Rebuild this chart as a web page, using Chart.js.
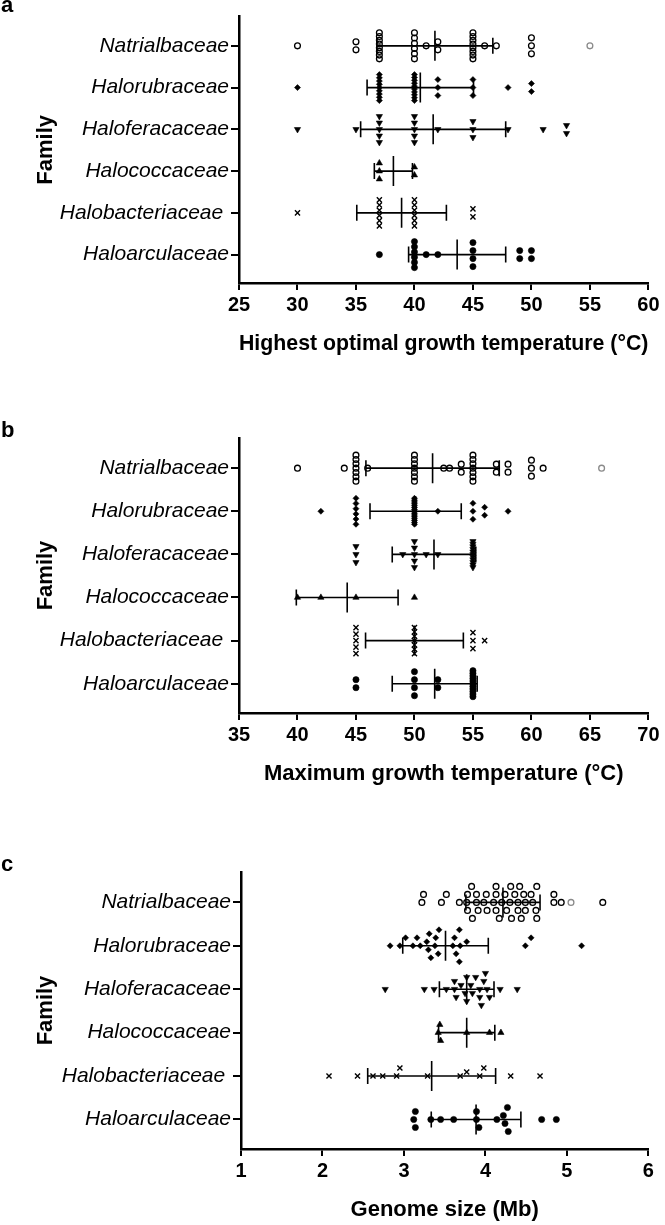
<!DOCTYPE html>
<html><head><meta charset="utf-8">
<script src="https://cdn.jsdelivr.net/npm/chart.js@4.4.1/dist/chart.umd.min.js"></script>
<style>
html,body{margin:0;padding:0;background:#fff;}
body{width:665px;height:1225px;overflow:hidden;position:relative;}
canvas{position:absolute;left:0;}
.letter{position:absolute;left:1px;font-family:"Liberation Sans",Arial,sans-serif;font-weight:bold;font-size:22px;line-height:22px;color:#000;z-index:2;}
</style></head><body>
<canvas id="panelA" width="665" height="365" style="top:0px"></canvas>
<canvas id="panelB" width="665" height="385" style="top:410px"></canvas>
<canvas id="panelC" width="665" height="380" style="top:845px"></canvas>
<div class="letter" style="top:-6px">a</div>
<div class="letter" style="top:419px">b</div>
<div class="letter" style="top:853px">c</div>
<script>
// ---------- categories ----------
const families = ['Natrialbaceae','Halorubraceae','Haloferacaceae','Halococcaceae','Halobacteriaceae ','Haloarculaceae'];

// ---------- panel a: highest optimal growth temperature (°C) ----------
const optNatrialbaceae = [30,35,35,37,37,37,37,37,37,37,37,40,40,40,40,40,40,41,42,42,45,45,45,45,45,45,45,45,46,47,50,50,50,55];
const optHalorubraceae = [30,37,37,37,37,37,37,37,37,37,40,40,40,40,40,40,40,40,40,40,42,42,42,45,45,45,48,50,50];
const optHaloferacaceae = [30,35,37,37,37,37,37,40,40,40,40,40,42,45,45,45,48,51,53,53];
const optHalococcaceae = [37,37,37,40,40];
const optHalobacteriaceae = [30,37,37,37,37,37,37,40,40,40,40,40,40,45,45];
const optHaloarculaceae = [37,40,40,40,40,40,40,41,42,45,45,45,45,49,49,50,50];
const optMean = [41.75,40.5,41.6,38.2,38.9,43.65];
const optSD = [4.95,4.55,6.2,1.63,3.83,4.15];
const optHighlight = 55;
const optTicks = [25,60,5];

// ---------- panel b: maximum growth temperature (°C) ----------
const maxNatrialbaceae = [40,44,45,45,45,45,45,45,45,46,50,50,50,50,50,50,50,52.5,53,54,54,55,55,55,55,55,55,55,57,57,58,58,60,60,60,61,66];
const maxHalorubraceae = [42,45,45,45,45,45,45,50,50,50,50,50,50,50,50,50,50,50,50,50,50,50,52,55,55,55,56,56,58];
const maxHaloferacaceae = [45,45,45,49,50,50,50,50,50,51,52,55,55,55,55,55,55,55,55,55,55,55];
const maxHalococcaceae = [40,42,45,50];
const maxHalobacteriaceae = [45,45,45,45,45,50,50,50,50,50,50,50,55,55,55,56];
const maxHaloarculaceae = [45,45,50,50,50,50,52,52,55,55,55,55,55,55,55,55,55,55,55];
const maxMean = [51.55,50.1,51.67,44.25,50.0,51.73];
const maxSD = [5.7,3.9,3.57,4.35,4.18,3.63];
const maxHighlight = 66;
const maxTicks = [35,70,5];

// ---------- panel c: genome size (Mb) ----------
const genNatrialbaceae = [3.22,3.24,3.46,3.52,3.68,3.77,3.78,3.78,3.83,3.84,3.89,3.89,3.91,3.98,4.01,4.02,4.10,4.13,4.13,4.13,4.17,4.20,4.24,4.26,4.30,4.31,4.32,4.36,4.40,4.40,4.42,4.44,4.47,4.49,4.49,4.56,4.58,4.62,4.63,4.63,4.84,4.84,4.93,5.05,5.44];
const genHalorubraceae = [2.83,2.95,3.02,3.11,3.16,3.20,3.28,3.30,3.31,3.33,3.38,3.39,3.42,3.43,3.60,3.62,3.64,3.68,3.68,3.69,3.77,4.49,4.56,5.18];
const genHaloferacaceae = [2.77,3.25,3.37,3.52,3.62,3.62,3.64,3.70,3.75,3.77,3.77,3.82,3.84,3.88,3.93,3.93,3.95,3.98,4.00,4.02,4.05,4.18,4.39];
const genHalococcaceae = [3.42,3.44,3.45,3.77,4.05,4.19];
const genHalobacteriaceae = [2.08,2.43,2.62,2.74,2.91,2.95,3.29,3.69,3.77,3.93,3.98,4.31,4.67];
const genHaloarculaceae = [3.12,3.14,3.14,3.33,3.45,3.61,3.89,3.89,3.92,4.14,4.22,4.24,4.27,4.28,4.69,4.87];
const genMean = [4.215,3.51,3.77,3.77,3.34,3.885];
const genSD = [0.455,0.525,0.335,0.345,0.785,0.55];
const genHighlight = 5.05;
const genTicks = [1,6,1];

// ---------- styles / layout ----------
const FONT = '"Liberation Sans", Arial, Helvetica, sans-serif';
const markStyles = [
  {style:'circle',   r:2.9, rot:0,   fill:'rgba(255,255,255,0)', bw:1.3},
  {style:'rectRot',  r:3.0, rot:0,   fill:'#000', bw:0.6},
  {style:'triangle', r:3.6, rot:180, fill:'#000', bw:0.6},
  {style:'triangle', r:3.6, rot:0,   fill:'#000', bw:0.6},
  {style:'crossRot', r:3.6, rot:0,   fill:'#000', bw:1.4},
  {style:'circle',   r:3.1, rot:0,   fill:'#000', bw:0.6}
];

const panels = [
  {id:'panelA', top:0,   plotTop:6,   plotBottom:283,  left:239, right:651, spread:'stack',
   series:[optNatrialbaceae,optHalorubraceae,optHaloferacaceae,optHalococcaceae,optHalobacteriaceae,optHaloarculaceae],
   mean:optMean, sd:optSD, ticks:optTicks, highlight:optHighlight, xTitle:'Highest optimal growth temperature (°C)'},
  {id:'panelB', top:410, plotTop:438, plotBottom:713,  left:239, right:650, spread:'stack',
   series:[maxNatrialbaceae,maxHalorubraceae,maxHaloferacaceae,maxHalococcaceae,maxHalobacteriaceae,maxHaloarculaceae],
   mean:maxMean, sd:maxSD, ticks:maxTicks, highlight:maxHighlight, xTitle:'Maximum growth temperature (°C)'},
  {id:'panelC', top:845, plotTop:872, plotBottom:1149, left:241, right:656, spread:'swarm',
   series:[genNatrialbaceae,genHalorubraceae,genHaloferacaceae,genHalococcaceae,genHalobacteriaceae,genHaloarculaceae],
   mean:genMean, sd:genSD, ticks:genTicks, highlight:genHighlight, xTitle:'Genome size (Mb)'}
];

// identical values stacked vertically (compressed when many)
function stackOffsets(vals, maxGap, maxSpan) {
  const counts = {}, seen = {};
  vals.forEach(v => counts[v] = (counts[v] || 0) + 1);
  return vals.map(v => {
    const n = counts[v];
    const k = seen[v] = (seen[v] === undefined ? 0 : seen[v] + 1);
    const g = n > 1 ? Math.min(maxGap, maxSpan / (n - 1)) : 0;
    return (k - (n - 1) / 2) * g;
  });
}
// continuous values spread so marks do not overlap
function swarmOffsets(vals, xs, gap, step) {
  const placed = [];
  const off = new Array(vals.length).fill(0);
  const order = vals.map((v, i) => i).sort((a, b) => vals[a] - vals[b]);
  order.forEach(i => {
    const px = xs.getPixelForValue(vals[i]);
    for (let k = 0; k < 60; k++) {
      const dy = k === 0 ? 0 : (k % 2 ? -1 : 1) * Math.ceil(k / 2) * step;
      if (placed.every(p => Math.hypot(p.x - px, p.y - dy) >= gap)) {
        off[i] = dy; placed.push({x: px, y: dy}); break;
      }
    }
  });
  return off;
}

function makePanel(p) {
  const canvas = document.getElementById(p.id);
  const H = canvas.height;
  const axisH = H - (p.plotBottom - p.top);
  const titleSize = 22, titleLH = titleSize * 1.2;
  const titlePadBottom = axisH - 61 - titleLH / 2;
  const datasets = [];
  p.mean.forEach((m, i) => datasets.push({
    type:'scatter', showLine:true, data:[{x:m - p.sd[i], y:i}, {x:m + p.sd[i], y:i}],
    borderColor:'#000', borderWidth:1.6, pointStyle:'line', pointRadius:8, pointRotation:90,
    pointBorderColor:'#000', pointBorderWidth:1.6, order:1
  }));
  datasets.push({
    type:'scatter', data:p.mean.map((m, i) => ({x:m, y:i})), pointStyle:'line', pointRadius:15,
    pointRotation:90, pointBorderColor:'#000', pointBorderWidth:1.6, order:1
  });
  const firstPts = datasets.length;
  p.series.forEach((vals, i) => {
    const st = markStyles[i];
    datasets.push({
      type:'scatter', data:[], pointStyle:st.style, pointRotation:st.rot, pointRadius:st.r,
      pointBackgroundColor:st.fill,
      pointBorderColor: vals.map(v => (i === 0 && v === p.highlight) ? '#8a8a8a' : '#000'),
      pointBorderWidth:st.bw, order:2
    });
  });
  const chart = new Chart(canvas, {
    type:'scatter',
    data:{datasets},
    options:{
      responsive:false, animation:false, events:[],
      layout:{padding:{left:0, right:665 - p.right, top:p.plotTop - p.top, bottom:0}},
      plugins:{legend:{display:false}, tooltip:{enabled:false}},
      scales:{
        x:{type:'linear', position:'bottom', min:p.ticks[0], max:p.ticks[1],
          ticks:{stepSize:p.ticks[2], color:'#000', font:{family:FONT, size:20, weight:'bold'}, padding:3.5, maxRotation:0, autoSkip:false},
          grid:{display:true, drawOnChartArea:false, drawTicks:true, tickLength:7, color:'#000', lineWidth:2},
          border:{display:true, color:'#000', width:2.5},
          title:{display:true, text:p.xTitle, color:'#000', font:{family:FONT, size:titleSize, weight:'bold'}, padding:{top:0, bottom:titlePadBottom}},
          afterFit: s => { s.height = axisH; s.paddingLeft = 0; s.paddingRight = 0; }
        },
        y:{type:'linear', position:'left', min:-0.7, max:5.68, reverse:true,
          afterBuildTicks: s => { s.ticks = families.map((f, i) => ({value:i})); },
          ticks:{callback: v => families[v], color:'#000', font:{family:FONT, size:21, style:'italic', weight:'normal'}, padding:2, autoSkip:false},
          grid:{display:true, drawOnChartArea:false, drawTicks:true, tickLength:8, color:'#000', lineWidth:2},
          border:{display:true, color:'#000', width:2.5},
          title:{display:true, text:'Family', color:'#000', font:{family:FONT, size:titleSize, weight:'bold'}, padding:{top:46 - titleLH / 2, bottom:0}},
          afterFit: s => { s.width = p.left; s.paddingTop = 0; s.paddingBottom = 0; }
        }
      }
    }
  });
  const xs = chart.scales.x, ys = chart.scales.y;
  const rowPx = Math.abs(ys.getPixelForValue(1) - ys.getPixelForValue(0));
  p.series.forEach((vals, i) => {
    const off = p.spread === 'stack' ? stackOffsets(vals, 8, 26) : swarmOffsets(vals, xs, 7, 4);
    chart.data.datasets[firstPts + i].data = vals.map((v, k) => ({x:v, y:i + off[k] / rowPx}));
  });
  chart.update('none');
}
panels.forEach(makePanel);
</script>
</body></html>
